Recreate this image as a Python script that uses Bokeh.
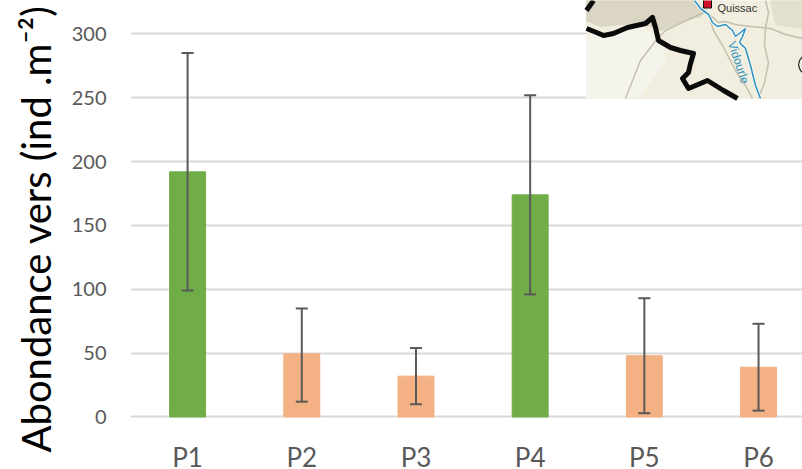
from bokeh.plotting import figure
from bokeh.embed import file_html
from bokeh.resources import INLINE
from bokeh.models import Range1d, Whisker, TeeHead, ColumnDataSource, FixedTicker, Title
from bokeh.core.properties import value

categories = ["P1", "P2", "P3", "P4", "P5", "P6"]
abundance = [192, 49.5, 32, 174, 48, 39]
err_low = [99, 12, 10, 96, 3, 5]
err_high = [285, 85, 54, 252, 93, 73]
colors = ["#70AD47", "#F4B183", "#F4B183", "#70AD47", "#F4B183", "#F4B183"]
y_ticks = [0, 50, 100, 150, 200, 250, 300]

# inset map outlines (page pixels)
map_bg = ([586, 802, 802, 586], [0, 0, 98, 98])
map_dark = ([586, 594, 640, 665, 695, 706, 700, 680, 660, 640, 600, 586],
            [0, 0, 0, 0, 0, 10, 16, 22, 30, 22, 26, 20])
map_dark2 = ([770, 802, 802, 775], [0, 0, 28, 24])
map_pale = ([586, 640, 660, 665, 640, 620, 600, 586],
            [36, 26, 40, 60, 95, 98, 98, 98])
road1 = ([706, 690, 665, 657, 640, 625], [11, 18, 30, 38, 60, 98])
road2 = ([708, 718, 725, 735, 750, 770, 785, 802], [13, 22, 21, 24, 26, 28, 34, 38])
road3 = ([765, 768, 765, 764, 768, 764, 758], [0, 12, 28, 45, 62, 82, 98])
road4 = ([708, 713, 722, 735, 745, 752], [13, 30, 45, 70, 85, 98])
border1 = ([586, 596, 603, 613, 627, 645, 652, 655, 658, 670, 680, 693, 690, 688, 682, 688, 707, 723, 737],
           [28, 32, 35, 33, 27, 23, 17, 27, 40, 47, 50, 53, 63, 72, 78, 88, 80, 90, 98])
border2 = ([586, 593], [10, 0])
river = ([694, 700, 708, 712, 717, 725, 732, 735, 740, 745, 742, 739, 745, 750, 755, 760],
         [0, 8, 14, 22, 26, 24, 30, 36, 32, 28, 36, 42, 48, 65, 85, 98])
arc = ([802, 799, 798, 800, 802], [56, 60, 65, 70, 72])

p = figure(width=802, height=469, output_backend="svg", toolbar_location=None,
           x_range=Range1d(-0.5, 5.385), y_range=Range1d(-41.12, 326.2),
           min_border_left=130, min_border_right=0, min_border_top=0, min_border_bottom=0,
           outline_line_color=None, background_fill_color="white")
p.extra_x_ranges["map"] = Range1d(130, 802)
p.extra_y_ranges["map"] = Range1d(469, 0)

xs = list(range(len(categories)))
src = ColumnDataSource(dict(x=xs, top=abundance, lo=err_low, hi=err_high, c=colors))
p.vbar(x="x", top="top", bottom=0, width=0.315, color="c", source=src)
p.add_layout(Whisker(base="x", lower="lo", upper="hi", source=src, line_color="#595959", line_width=2,
                     level="annotation",
                     upper_head=TeeHead(size=12, line_color="#595959", line_width=2),
                     lower_head=TeeHead(size=12, line_color="#595959", line_width=2)))

m = dict(x_range_name="map", y_range_name="map")
p.patch(*map_bg, color="#F1EEDF", **m)
p.patch(*map_dark, color="#DAD6C3", **m)
p.patch(*map_dark2, color="#E3DFCD", **m)
p.patch(*map_pale, color="#F5F4EC", **m)
for r in (road1, road2, road3, road4):
    p.line(*r, line_color="#C4C0AE", line_width=1.5, **m)
p.line(*river, line_color="#FFFFFF", line_width=3, **m)
p.line(*river, line_color="#2E93BE", line_width=1.6, **m)
p.line(*border1, line_color="#0A0A0A", line_width=5, line_join="round", **m)
p.line(*border2, line_color="#0A0A0A", line_width=5, **m)
p.line(*arc, line_color="#222222", line_width=1.2, **m)
p.rect([707], [3], width=8, height=9, color="#D0112B", line_color="#111111", **m)
p.text([717], [7], text=["Quissac"], text_font=value("Liberation Sans"), text_font_size="11px",
       text_color="#333333", text_baseline="alphabetic", **m)
p.text([738], [62], text=["Vidourle"], text_font=value("Liberation Sans"), text_font_size="12px",
       text_color="#2E93BE", angle=-1.25, text_align="center", text_baseline="middle", **m)

p.grid.grid_line_color = None
p.ygrid.grid_line_color = "#D9D9D9"
p.ygrid.grid_line_width = 2
p.ygrid.ticker = FixedTicker(ticks=y_ticks)
p.xaxis.ticker = FixedTicker(ticks=xs)
p.xaxis.major_label_overrides = {i: c for i, c in enumerate(categories)}
p.xaxis.fixed_location = 0
p.yaxis.ticker = FixedTicker(ticks=y_ticks)
for ax in (p.xaxis[0], p.yaxis[0]):
    ax.axis_line_color = None
    ax.major_tick_line_color = None
    ax.minor_tick_line_color = None
    ax.major_label_text_font = "Lato"
    ax.major_label_text_color = "#595959"
p.xaxis.major_label_text_font_size = "26px"
p.xaxis.major_label_standoff = 18
p.yaxis.major_label_text_font_size = "20px"
p.yaxis.major_label_standoff = 18

p.add_layout(Title(text="Abondance vers (ind .m⁻²)", text_font="Lato", text_font_style="normal",
                   text_font_size="40px", text_color="#000000", align="left",
                   offset=17, standoff=18), "left")

open("out.html", "w").write(file_html(p, INLINE))
